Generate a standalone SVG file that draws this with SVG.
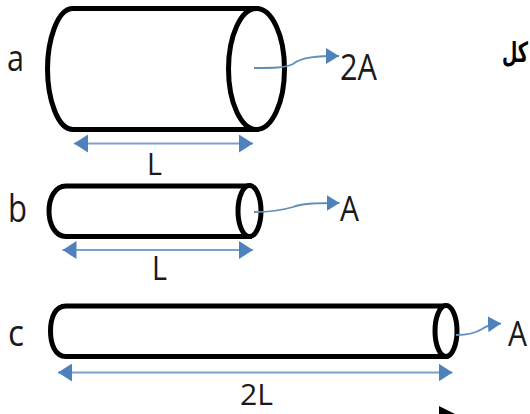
<svg xmlns="http://www.w3.org/2000/svg" width="530" height="414" viewBox="0 0 530 414">
<style>
text{font-family:"Open Sans","Liberation Sans",sans-serif;fill:#1a1a1a}
.cyl{fill:#fff;stroke:#000;stroke-width:5}
.dim{fill:none;stroke:#7aa3cc;stroke-width:2;marker-start:url(#hs);marker-end:url(#he)}
.flow{fill:none;stroke:#5f8fbb;stroke-width:1.8;marker-end:url(#f)}
</style>
<defs>
<marker id="he" markerUnits="userSpaceOnUse" markerWidth="14" markerHeight="18" refX="14" refY="9" orient="auto"><path d="M0 0L14 9L0 18Z" fill="#4f81bd"/></marker>
<marker id="hs" markerUnits="userSpaceOnUse" markerWidth="14" markerHeight="18" refX="0" refY="9" orient="auto"><path d="M14 0L0 9L14 18Z" fill="#4f81bd"/></marker>
<marker id="f" markerUnits="userSpaceOnUse" markerWidth="14" markerHeight="16" refX="13" refY="8" orient="auto"><path d="M0 0L13 8L0 16Z" fill="#4f81bd"/></marker>
</defs>
<rect width="530" height="414" fill="#fff"/>
<g id="cylinder-a">
<path class="cyl" d="M73 8.500H256.500V129.500H73C57 129.500 47.500 97 47.500 69C47.500 41 57 8.500 73 8.500Z"/>
<ellipse class="cyl" cx="256.500" cy="69" rx="28" ry="60.500"/>
</g>
<g id="cylinder-b">
<path class="cyl" d="M66 186H249.500V236.500H66C55 236.500 49 224 49 211C49 198 55 186 66 186Z"/>
<ellipse class="cyl" cx="249.500" cy="211" rx="11.500" ry="25.500"/>
</g>
<g id="cylinder-c">
<path class="cyl" d="M66 306H446V356.500H66C55 356.500 50.500 344 50.500 331C50.500 318 55 306 66 306Z"/>
<ellipse class="cyl" cx="446" cy="331" rx="11" ry="25.500"/>
</g>
<g id="connectors">
<path class="dim" d="M74 143.500H253"/>
<path class="dim" d="M62.500 250H253"/>
<path class="dim" d="M58 372.500H452.500"/>
<path class="flow" d="M254 68C273 68 285 68 293 64C301 57 318 56 339 56"/>
<path class="flow" d="M254 212C273 212 283 210 293 207C303 203 320 203 339.500 203"/>
<path class="flow" d="M456 335C468 335 476 333 482 329C486 326 492 324 501 323.500"/>
</g>
<g id="labels">
<text x="7" y="71" font-size="36" textLength="17" lengthAdjust="spacingAndGlyphs">a</text>
<text x="8" y="222" font-size="38" textLength="19" lengthAdjust="spacingAndGlyphs">b</text>
<text x="8" y="345.500" font-size="36" textLength="16" lengthAdjust="spacingAndGlyphs">c</text>
<text x="340" y="80" font-size="36" textLength="37" lengthAdjust="spacingAndGlyphs">2A</text>
<text x="340" y="220.500" font-size="35" textLength="19" lengthAdjust="spacingAndGlyphs">A</text>
<text x="508" y="345.500" font-size="35" textLength="19" lengthAdjust="spacingAndGlyphs">A</text>
<text x="147" y="175" font-size="31" textLength="15" lengthAdjust="spacingAndGlyphs">L</text>
<text x="152" y="280" font-size="32" textLength="15" lengthAdjust="spacingAndGlyphs">L</text>
<text x="240" y="405" font-size="30" textLength="33" lengthAdjust="spacingAndGlyphs">2L</text>
<text x="528" y="62" direction="rtl" style="font-family:'DejaVu Sans',sans-serif;font-size:28px;font-weight:bold;fill:#000" textLength="26" lengthAdjust="spacingAndGlyphs">كل</text>
</g>
<path id="cursor" d="M439 406L455 414H439Z" fill="#000"/>
</svg>
